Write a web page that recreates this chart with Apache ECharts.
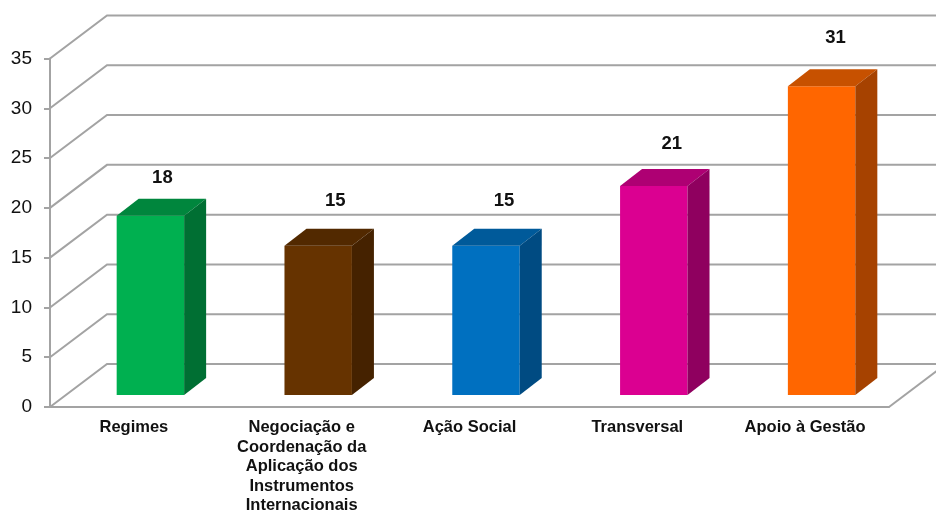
<!DOCTYPE html>
<html>
<head>
<meta charset="utf-8">
<title>Chart</title>
<style>
html, body { margin: 0; padding: 0; background: #fff; }
#chart { width: 936px; height: 516px; }
</style>
</head>
<body>
<div id="chart"></div>
<script src="https://cdn.jsdelivr.net/npm/echarts@6/dist/echarts.min.js"></script>
<script>
const categories = ['Regimes', 'Negociação e\nCoordenação da\nAplicação dos\nInstrumentos\nInternacionais', 'Ação Social', 'Transversal', 'Apoio à Gestão']
const values = [18, 15, 15, 21, 31]
const yTicks = [0, 5, 10, 15, 20, 25, 30, 35]

// front, top, side
const barColors = [
  ['#00b050', '#00863d', '#006f33'],
  ['#663300', '#522900', '#452200'],
  ['#0070c0', '#005a9a', '#004b82'],
  ['#db0091', '#ae0073', '#8f005f'],
  ['#ff6600', '#c75100', '#a64200']
]

// the labels in the picture do not sit at a fixed distance from the bars
const labelNudgeX = [12, 17, 18, 18, 14]
const labelLift = [21, 28, 28, 25, 31]

const gridColor = '#a3a3a3'
const wallX = 57, wallY = -43      // depth of the whole box
const barX = 16.5, barY = -12      // where the bars stand on the floor
const depthX = 22, depthY = -17    // depth of one bar

function renderGridline(params, api) {
  const rect = params.coordSys
  const p = api.coord([0, api.value(0)])
  const y = p[1]
  const children = [{
    type: 'polyline',
    shape: { points: [[rect.x, y], [rect.x + wallX, y + wallY], [rect.x + rect.width + wallX, y + wallY]] },
    style: { stroke: gridColor, lineWidth: 2, fill: null }
  }]
  if (api.value(0) === 0) {
    children.push({
      type: 'line',
      shape: { x1: rect.x + rect.width, y1: y, x2: rect.x + rect.width + wallX, y2: y + wallY },
      style: { stroke: gridColor, lineWidth: 2 }
    })
  }
  return { type: 'group', children: children }
}

function renderBar(params, api) {
  const i = api.value(0)
  const v = api.value(1)
  const base = api.coord([i, 0])
  const top = api.coord([i, v])
  const w = api.size([1, 0])[0] * 0.402
  const l = base[0] - w / 2 + barX
  const r = l + w
  const b = base[1] + barY
  const t = top[1] + barY
  const c = barColors[i]
  return {
    type: 'group',
    children: [
      { type: 'rect', shape: { x: l, y: t, width: w, height: b - t }, style: { fill: c[0] } },
      { type: 'polygon', shape: { points: [[l, t], [r, t], [r + depthX, t + depthY], [l + depthX, t + depthY]] }, style: { fill: c[1] } },
      { type: 'polygon', shape: { points: [[r, t], [r + depthX, t + depthY], [r + depthX, b + depthY], [r, b]] }, style: { fill: c[2] } },
      {
        type: 'text',
        style: {
          x: base[0] + barX + labelNudgeX[i],
          y: t + depthY - labelLift[i],
          text: String(v),
          fill: '#111',
          font: 'bold 18.5px "Liberation Sans", Arial, sans-serif',
          align: 'center',
          verticalAlign: 'middle'
        }
      }
    ]
  }
}

const myChart = echarts.init(document.getElementById('chart'), null, { renderer: 'canvas' })
const option = {
  animation: false,
  backgroundColor: '#fff',
  grid: { left: 50, right: 47, top: 58.5, bottom: 109 },
  xAxis: {
    type: 'category',
    data: categories,
    axisLine: { lineStyle: { color: gridColor, width: 2 } },
    axisTick: { length: 4, lineStyle: { color: gridColor, width: 2 } },
    axisLabel: {
      interval: 0,
      margin: 11,
      color: '#111',
      fontFamily: '"Liberation Sans", Arial, sans-serif',
      fontWeight: 'bold',
      fontSize: 16.5,
      lineHeight: 19.5
    }
  },
  yAxis: {
    type: 'value',
    min: 0,
    max: 35,
    interval: 5,
    splitLine: { show: false },
    axisLine: { show: true, lineStyle: { color: gridColor, width: 2 } },
    axisTick: { show: true, length: 6, lineStyle: { color: gridColor, width: 2 } },
    axisLabel: {
      margin: 18,
      color: '#111',
      fontFamily: '"Liberation Sans", Arial, sans-serif',
      fontSize: 19
    }
  },
  series: [
    {
      type: 'custom',
      renderItem: renderGridline,
      data: yTicks.map(v => [v]),
      encode: { y: 0 },
      silent: true,
      z: 1
    },
    {
      type: 'custom',
      renderItem: renderBar,
      data: values.map((v, i) => [i, v]),
      encode: { x: 0, y: 1 },
      z: 2
    }
  ]
}
myChart.setOption(option)
</script>
</body>
</html>
